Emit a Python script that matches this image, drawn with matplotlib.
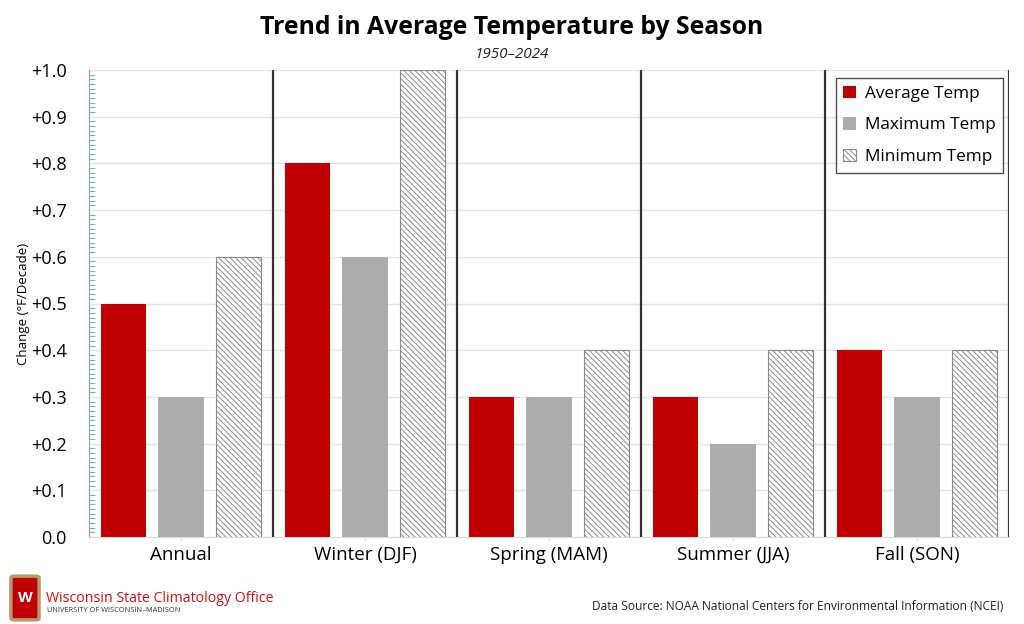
import numpy as np
import matplotlib.pyplot as plt
from matplotlib.patches import FancyBboxPatch
from matplotlib.ticker import MultipleLocator

plt.rcParams['font.family'] = ['Open Sans', 'DejaVu Sans']
plt.rcParams['hatch.linewidth'] = 0.7

seasons = ["Annual", "Winter (DJF)", "Spring (MAM)", "Summer (JJA)", "Fall (SON)"]
avg_temp = [0.5, 0.8, 0.3, 0.3, 0.4]
max_temp = [0.3, 0.6, 0.3, 0.2, 0.3]
min_temp = [0.6, 1.0, 0.4, 0.4, 0.4]
yticks = [0.0, 0.1, 0.2, 0.3, 0.4, 0.5, 0.6, 0.7, 0.8, 0.9, 1.0]
ylabels = ["0.0"] + ["+%.1f" % v for v in yticks[1:]]

RED = "#c00000"
GRAY = "#acacac"

fig = plt.figure(figsize=(10.24, 6.24), dpi=100)
ax = fig.add_axes([89/1024, 1-537/624, 920/1024, 467/624])

x = np.arange(len(seasons))
w = 0.245
off = 0.3125
ax.bar(x - off, avg_temp, w, color=RED, zorder=3, label="Average Temp")
ax.bar(x, max_temp, w, color=GRAY, zorder=3, label="Maximum Temp")
ax.bar(x + off, min_temp, w, color="white", edgecolor="#8a8a8a", hatch="\\\\\\\\\\\\",
       linewidth=0.8, zorder=3, label="Minimum Temp")

# section dividers
for xs in list(x[1:] - 0.5) + [4.5]:
    ax.axvline(xs, color="#333333", lw=1.6, zorder=4)

ax.set_xlim(-0.5, 4.5)
ax.set_ylim(0, 1.0)
ax.set_yticks(yticks)
ax.set_yticklabels(ylabels, fontsize=13)
ax.yaxis.set_minor_locator(MultipleLocator(0.01))
ax.tick_params(axis='y', which='major', length=0, pad=16, direction='in')
ax.tick_params(axis='y', which='minor', length=4, color="#7aaac6", direction='in', width=0.8)
ax.set_xticks(x)
ax.set_xticklabels(seasons, fontsize=13.5)
ax.tick_params(axis='x', length=5, color="#d9d9d9", direction='inout', pad=4)

ax.grid(axis='y', color="#e3e3e3", lw=1, zorder=0)
for s in ["top", "right"]:
    ax.spines[s].set_visible(False)
ax.spines["left"].set_color("#7aaac6")
ax.spines["bottom"].set_color("#d9d9d9")

ax.set_ylabel("Change (°F/Decade)", fontsize=9.5)
ax.yaxis.set_label_coords(-0.064, 0.5)

leg = ax.legend(loc="upper right", bbox_to_anchor=(0.9935, 0.983), frameon=True,
                fancybox=False, edgecolor="#222222", fontsize=12.3, handlelength=0.75,
                handleheight=0.75, handletextpad=0.5, labelspacing=0.9,
                borderpad=0.45, borderaxespad=0)
leg.get_frame().set_linewidth(1.0)

fig.text(0.5, 1-27/624, "Trend in Average Temperature by Season", ha="center",
         va="center", fontsize=17.8, fontweight="bold")
fig.text(0.5, 1-55/624, "1950–2024", ha="center", va="center", fontsize=11,
         style="italic", color="#222222")

# logo
shield = FancyBboxPatch((14/1024, 1-618/624), 22/1024, 40/624,
                        boxstyle="round,pad=0.003", transform=fig.transFigure,
                        facecolor=RED, edgecolor="#b89a6a", lw=2.5)
fig.patches.append(shield)
fig.text(25/1024, 1-598/624, "W", ha="center", va="center", color="white",
         fontsize=11, fontweight="bold")
fig.text(46/1024, 1-599/624, "Wisconsin State Climatology Office", ha="left",
         va="center", fontsize=10.2, color="#d01010")
fig.text(47/1024, 1-611/624, "UNIVERSITY OF WISCONSIN–MADISON", ha="left",
         va="center", fontsize=5.3, color="#333333")
fig.text(1003/1024, 1-606/624,
         "Data Source: NOAA National Centers for Environmental Information (NCEI)",
         ha="right", va="center", fontsize=8.6, color="#222222")

fig.savefig("out.png", dpi=100)
